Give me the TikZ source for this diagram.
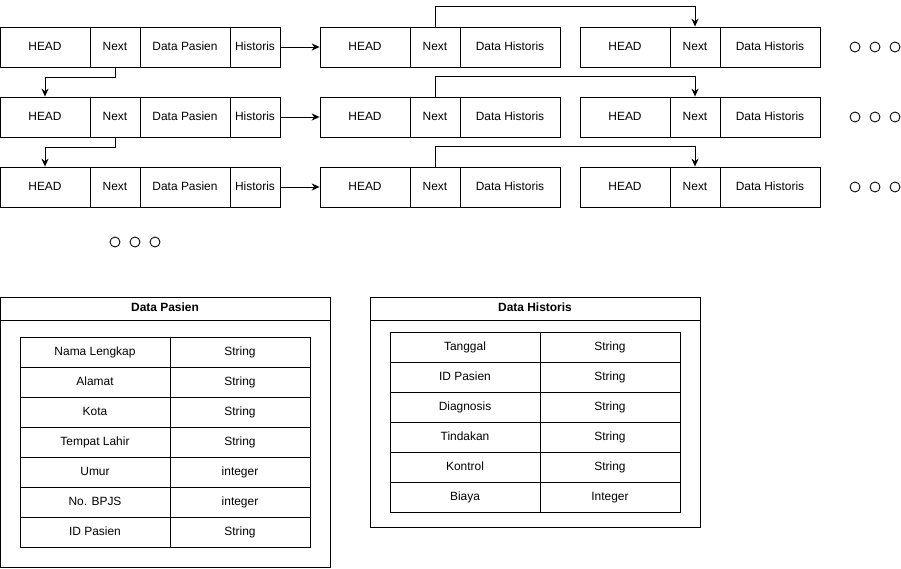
\documentclass[tikz,border=0pt]{standalone}
\usepackage{fontspec}
\setmainfont{Liberation Sans}
\usetikzlibrary{arrows.meta}
\tikzset{
  cell/.style={draw, inner sep=0pt, minimum height=0.8cm, text height=5pt, text depth=1.4pt, font=\fontsize{6.8}{8}\selectfont},
  wide/.style={cell, minimum width=1.8cm},
  slim/.style={cell, minimum width=1cm},
  longer/.style={cell, minimum width=2cm},
  field/.style={draw, inner sep=0pt, minimum height=0.6cm, text height=5pt, text depth=1.4pt, font=\fontsize{6.8}{8}\selectfont},
  link/.style={-{Stealth[length=4.5pt, width=4pt]}},
}
\def\dt{node[circle, draw, inner sep=0pt, minimum size=0.2cm]{}}

\begin{document}
\begin{tikzpicture}[x=0.02cm, y=-0.02cm, line width=0.5pt]
        \useasboundingbox (0,0) rectangle (901,568);
        % the three rows of lists
        \foreach \r/\y in {1/47,2/117,3/187}{
          \node[wide] (h\r) at (45,\y) {HEAD};
          \node[slim] (n\r) at (115,\y) {Next};
          \node[wide] (d\r) at (185,\y) {Data Pasien};
          \node[slim] (s\r) at (255,\y) {Historis};
          \node[wide] (ha\r) at (365,\y) {HEAD};
          \node[slim] (na\r) at (435,\y) {Next};
          \node[longer] (da\r) at (510,\y) {Data Historis};
          \node[wide] (hb\r) at (625,\y) {HEAD};
          \node[slim] (nb\r) at (695,\y) {Next};
          \node[longer] (db\r) at (770,\y) {Data Historis};
          \draw[link] (s\r) -- (ha\r);
          \draw[link] (na\r.north) -- ++(0,-20) -| (nb\r.north);
          \draw (855,\y) \dt;
          \draw (875,\y) \dt;
          \draw (895,\y) \dt;
        }
        \foreach \r in {1,2}{
          \pgfmathtruncatemacro{\next}{\r + 1}
          \draw[link] (n\r.south) -- ++(0,10) -| (h\next.north);
        }
        \draw (115,242) \dt;
        \draw (135,242) \dt;
        \draw (155,242) \dt;

        % Data Pasien
        \node[draw, minimum width=6.6cm, minimum height=5.4cm] (pframe) at (165,432) {};
        \node[field, minimum width=6.6cm, minimum height=0.46cm, font=\fontsize{6.8}{8}\selectfont\bfseries,
          anchor=north] (ptitle) at (pframe.north) {Data Pasien};
        \foreach \a/\b [count=\k from 0] in {Nama Lengkap/String, Alamat/String, Kota/String,
            Tempat Lahir/String, Umur/integer, No. BPJS/integer, ID Pasien/String}{
          \node[field, minimum width=3cm] (pa\k) at (95,352+30*\k) {\a};
          \node[field, minimum width=2.8cm] (pb\k) at (240,352+30*\k) {\b};
        }

        % Data Historis
        \node[draw, minimum width=6.6cm, minimum height=4.6cm] (hframe) at (535,412) {};
        \node[field, minimum width=6.6cm, minimum height=0.46cm, font=\fontsize{6.8}{8}\selectfont\bfseries,
          anchor=north] (htitle) at (hframe.north) {Data Historis};
        \foreach \a/\b [count=\k from 0] in {Tanggal/String, ID Pasien/String, Diagnosis/String,
            Tindakan/String, Kontrol/String, Biaya/Integer}{
          \node[field, minimum width=3cm] (ha\k) at (465,347+30*\k) {\a};
          \node[field, minimum width=2.8cm] (hb\k) at (610,347+30*\k) {\b};
        }
      \end{tikzpicture}
\end{document}
